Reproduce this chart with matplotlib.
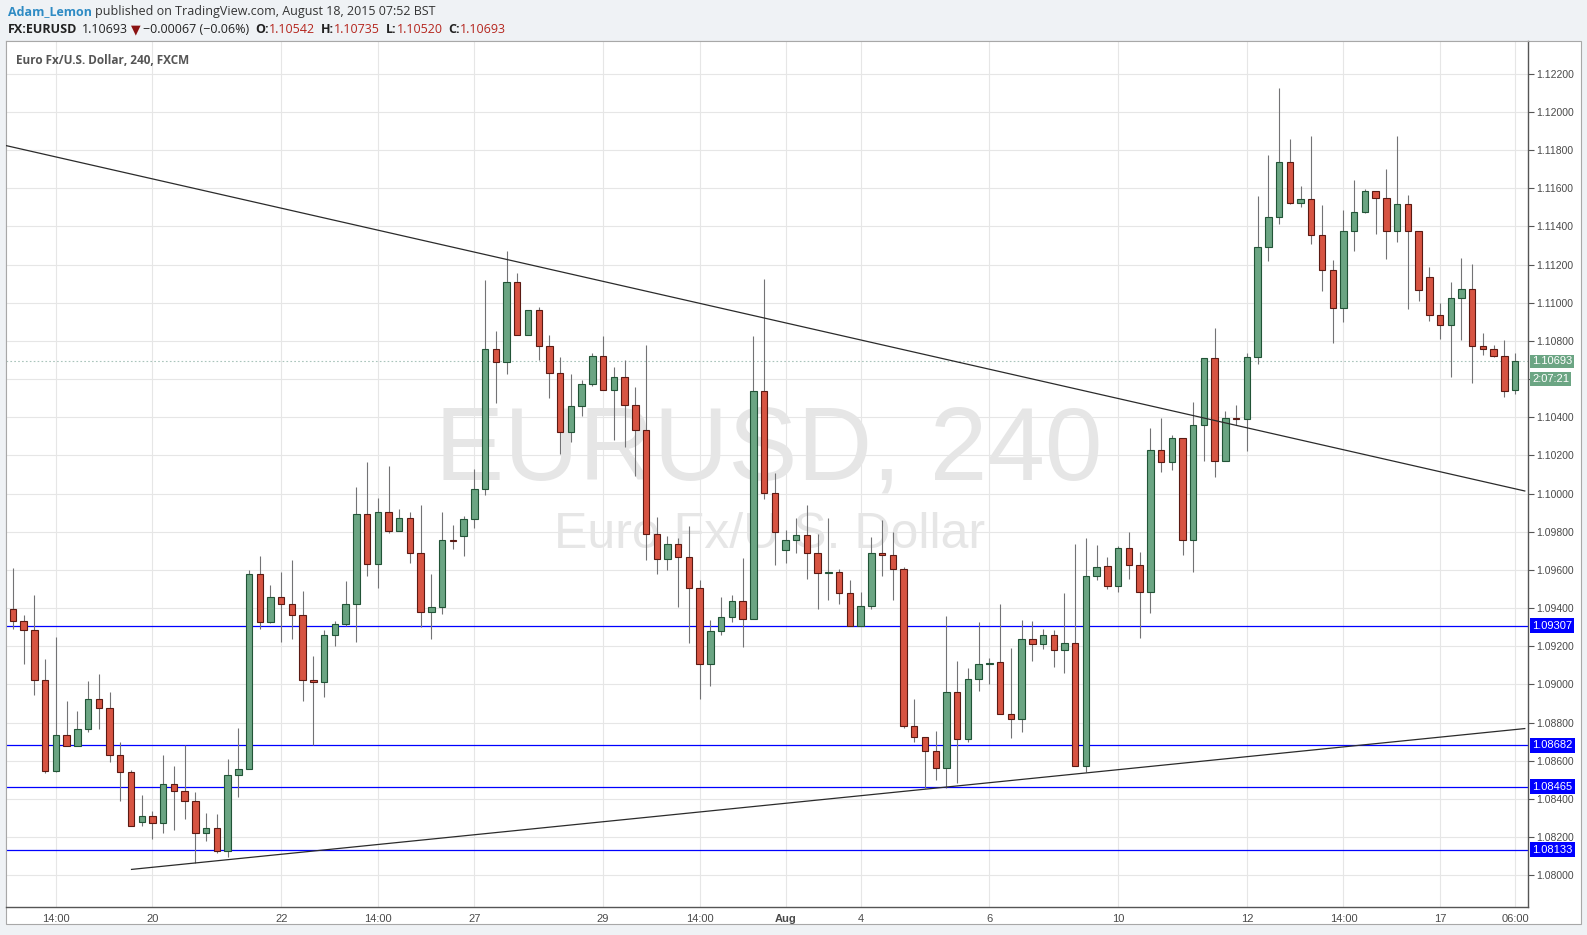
import numpy as np
import matplotlib.pyplot as plt
from matplotlib.patches import Rectangle
from matplotlib.transforms import blended_transform_factory

# EUR/USD 4h candles (FXCM)
opens = [
    1.09395, 1.09332, 1.09284, 1.09026, 1.08547, 1.08737, 1.08679, 1.08768, 1.08926, 1.08879,
    1.08632, 1.08542, 1.08279, 1.08311, 1.08274, 1.08479, 1.08442, 1.08389, 1.08221, 1.08247,
    1.08126, 1.08526, 1.08558, 1.09579, 1.09326, 1.09456, 1.09420, 1.09362, 1.09022, 1.09013,
    1.09258, 1.09315, 1.09420, 1.09896, 1.09629, 1.09906, 1.09802, 1.09870, 1.09687, 1.09378,
    1.09404, 1.09755, 1.09777, 1.09865, 1.10022, 1.10760, 1.10688, 1.11107, 1.10829, 1.10960,
    1.10775, 1.10630, 1.10321, 1.10457, 1.10577, 1.10719, 1.10541, 1.10609, 1.10467, 1.10331,
    1.09786, 1.09660, 1.09734, 1.09666, 1.09508, 1.09108, 1.09280, 1.09356, 1.09440, 1.09341,
    1.10536, 1.10006, 1.09707, 1.09755, 1.09781, 1.09687, 1.09582, 1.09587, 1.09482, 1.09307,
    1.09409, 1.09687, 1.09681, 1.09603, 1.08785, 1.08727, 1.08654, 1.08565, 1.08963, 1.08712,
    1.09031, 1.09105, 1.09117, 1.08846, 1.08818, 1.09238, 1.09211, 1.09258, 1.09180, 1.09217,
    1.08574, 1.09568, 1.09620, 1.09515, 1.09714, 1.09625, 1.09484, 1.10228, 1.10165, 1.10291,
    1.09756, 1.10358, 1.10710, 1.10169, 1.10395, 1.10390, 1.10716, 1.11292, 1.11450, 1.11738,
    1.11523, 1.11544, 1.11355, 1.11172, 1.10971, 1.11376, 1.11476, 1.11586, 1.11549, 1.11376,
    1.11518, 1.11376, 1.11135, 1.10936, 1.10884, 1.11025, 1.11072, 1.10774, 1.10758, 1.10721,
    1.10542]
highs = [
    1.09611, 1.09365, 1.09470, 1.09133, 1.09249, 1.08912, 1.08860, 1.09018, 1.09054, 1.08960,
    1.08697, 1.08554, 1.08423, 1.08339, 1.08628, 1.08575, 1.08684, 1.08439, 1.08328, 1.08323,
    1.08612, 1.08770, 1.09600, 1.09672, 1.09521, 1.09589, 1.09652, 1.09490, 1.09150, 1.09285,
    1.09332, 1.09542, 1.10034, 1.10164, 1.09977, 1.10144, 1.09919, 1.09903, 1.09941, 1.09578,
    1.09906, 1.09834, 1.09885, 1.10128, 1.11117, 1.10852, 1.11272, 1.11154, 1.10965, 1.10978,
    1.10829, 1.10714, 1.10626, 1.10595, 1.10736, 1.10826, 1.10663, 1.10700, 1.10558, 1.10778,
    1.09877, 1.09777, 1.09767, 1.09830, 1.09547, 1.09337, 1.09458, 1.09468, 1.09662, 1.10826,
    1.11123, 1.10108, 1.09812, 1.09870, 1.09943, 1.09786, 1.09870, 1.09606, 1.09550, 1.09484,
    1.09772, 1.09861, 1.09797, 1.09617, 1.08923, 1.08727, 1.08755, 1.09358, 1.09122, 1.09089,
    1.09327, 1.09140, 1.09421, 1.09192, 1.09339, 1.09334, 1.09292, 1.09286, 1.09480, 1.09734,
    1.09769, 1.09732, 1.09669, 1.09725, 1.09800, 1.09695, 1.10345, 1.10398, 1.10308, 1.10291,
    1.10481, 1.10712, 1.10868, 1.10433, 1.10463, 1.10737, 1.11561, 1.11776, 1.12128, 1.11858,
    1.11612, 1.11876, 1.11513, 1.11226, 1.11488, 1.11645, 1.11598, 1.11586, 1.11700, 1.11876,
    1.11565, 1.11376, 1.11189, 1.11001, 1.11111, 1.11237, 1.11205, 1.10843, 1.10779, 1.10807,
    1.10735]
lows = [
    1.09293, 1.09109, 1.08946, 1.08535, 1.08542, 1.08679, 1.08679, 1.08751, 1.08767, 1.08593,
    1.08388, 1.08256, 1.08261, 1.08188, 1.08224, 1.08235, 1.08293, 1.08063, 1.08182, 1.08119,
    1.08098, 1.08409, 1.08558, 1.09290, 1.09321, 1.09225, 1.09236, 1.08912, 1.08683, 1.08937,
    1.09200, 1.09308, 1.09222, 1.09566, 1.09503, 1.09795, 1.09802, 1.09638, 1.09299, 1.09240,
    1.09371, 1.09712, 1.09674, 1.09822, 1.09993, 1.10476, 1.10628, 1.10829, 1.10829, 1.10700,
    1.10502, 1.10209, 1.10272, 1.10408, 1.10565, 1.10541, 1.10281, 1.10246, 1.10094, 1.09653,
    1.09580, 1.09601, 1.09407, 1.09218, 1.08924, 1.08990, 1.09258, 1.09328, 1.09197, 1.09341,
    1.09973, 1.09627, 1.09638, 1.09690, 1.09555, 1.09397, 1.09444, 1.09423, 1.09307, 1.09307,
    1.09397, 1.09569, 1.09444, 1.08773, 1.08701, 1.08455, 1.08502, 1.08460, 1.08486, 1.08701,
    1.08968, 1.09005, 1.08846, 1.08719, 1.08750, 1.09122, 1.09185, 1.09091, 1.09060, 1.08574,
    1.08539, 1.09545, 1.09498, 1.09487, 1.09555, 1.09241, 1.09372, 1.10111, 1.10122, 1.09676,
    1.09592, 1.10172, 1.10088, 1.10169, 1.10358, 1.10225, 1.10681, 1.11221, 1.11415, 1.11516,
    1.11500, 1.11306, 1.11060, 1.10788, 1.10898, 1.11270, 1.11471, 1.11359, 1.11228, 1.11317,
    1.10966, 1.11008, 1.10903, 1.10809, 1.10609, 1.10803, 1.10578, 1.10725, 1.10714, 1.10505,
    1.10520]
closes = [
    1.09332, 1.09284, 1.09026, 1.08547, 1.08737, 1.08679, 1.08768, 1.08926, 1.08877, 1.08632,
    1.08542, 1.08261, 1.08311, 1.08274, 1.08479, 1.08442, 1.08389, 1.08221, 1.08247, 1.08126,
    1.08526, 1.08558, 1.09579, 1.09326, 1.09456, 1.09420, 1.09362, 1.09022, 1.09013, 1.09258,
    1.09315, 1.09420, 1.09896, 1.09629, 1.09906, 1.09802, 1.09870, 1.09687, 1.09378, 1.09404,
    1.09755, 1.09752, 1.09865, 1.10022, 1.10760, 1.10688, 1.11107, 1.10829, 1.10960, 1.10775,
    1.10630, 1.10321, 1.10457, 1.10577, 1.10719, 1.10541, 1.10609, 1.10467, 1.10331, 1.09786,
    1.09660, 1.09734, 1.09666, 1.09508, 1.09108, 1.09280, 1.09356, 1.09440, 1.09341, 1.10536,
    1.10006, 1.09797, 1.09755, 1.09781, 1.09687, 1.09582, 1.09588, 1.09482, 1.09307, 1.09409,
    1.09687, 1.09680, 1.09603, 1.08785, 1.08727, 1.08654, 1.08565, 1.08963, 1.08712, 1.09031,
    1.09105, 1.09114, 1.08846, 1.08818, 1.09238, 1.09211, 1.09258, 1.09180, 1.09217, 1.08574,
    1.09568, 1.09615, 1.09515, 1.09714, 1.09625, 1.09484, 1.10228, 1.10165, 1.10291, 1.09756,
    1.10358, 1.10710, 1.10169, 1.10395, 1.10390, 1.10716, 1.11292, 1.11450, 1.11738, 1.11523,
    1.11544, 1.11355, 1.11172, 1.10971, 1.11376, 1.11476, 1.11586, 1.11549, 1.11376, 1.11518,
    1.11376, 1.11067, 1.10936, 1.10884, 1.11025, 1.11072, 1.10774, 1.10758, 1.10721, 1.10538,
    1.10693]

# time axis labels (bar index -> label)
tick_idx = [4, 13, 25, 34, 43, 55, 64, 72, 79, 91, 103, 115, 124, 133, 140]
tick_lbl = ['14:00', '20', '22', '14:00', '27', '29', '14:00', 'Aug', '4', '6', '10', '12',
            '14:00', '17', '06:00']
# price scale label hidden under the countdown tag
hidden_price = 1.106

# drawings
hlines = [1.09307, 1.08682, 1.08465, 1.08133]
down_trend_x = [-0.65, 140.9]
down_trend_y = [1.11824, 1.10014]
up_trend_x = [11.05, 140.9]
up_trend_y = [1.08031, 1.08769]
last_price = 1.10693
countdown = '2:07:21'

W, H = 1587, 935
fig = plt.figure(figsize=(W / 100, H / 100), dpi=100)
fig.patch.set_facecolor('#eff2f5')

def fx(px):
    return px / W

def fy(py):
    return 1 - py / H

# white chart box (behind the axes)
fig.patches.append(Rectangle((fx(6), fy(924)), fx(1581) - fx(6), fy(41) - fy(924),
                             transform=fig.transFigure, fc='white', ec='#a8a8a8',
                             lw=0.8, zorder=-5))

ax = fig.add_axes([fx(6), fy(907), fx(1528) - fx(6), fy(41) - fy(907)])
ax.set_facecolor('white')
ax.set_xlim(-0.65, 141.2)
ax.set_ylim(1.07834, 1.12372)
ax.set_axisbelow(True)

o = np.array(opens)
h = np.array(highs)
l = np.array(lows)
c = np.array(closes)
x = np.arange(len(o))
up = c >= o

# watermark
ax.text(0.5013, 0.4942, 'EURUSD, 240', transform=ax.transAxes, ha='center', va='baseline',
        fontsize=74.5, family='Liberation Sans', color='#e6e6e6', zorder=0.6)
ax.text(0.5016, 0.4145, 'Euro Fx/U.S. Dollar', transform=ax.transAxes, ha='center',
        va='baseline', fontsize=36, family='Liberation Sans', color='#e6e6e6', zorder=0.6)

# horizontal levels and last price
for lv in hlines:
    ax.axhline(lv, color='#0000ff', lw=0.9, zorder=2)
ax.axhline(last_price, color='#a9c4bb', lw=0.8, ls=(0, (1.5, 2)), zorder=1.5)

# candles
ax.vlines(x, l, h, color='#737375', lw=0.8, zorder=3)
body_bot = np.minimum(o, c)
body_h = np.maximum(np.abs(c - o), 0.00003)
ax.bar(x, body_h, bottom=body_bot, width=0.6,
       color=np.where(up, '#6ba583', '#d75442'),
       edgecolor=np.where(up, '#225437', '#5b1a13'), linewidth=0.8, zorder=4)

# trend lines
ax.plot(down_trend_x, down_trend_y, color='#2b2b2b', lw=0.9, zorder=5)
ax.plot(up_trend_x, up_trend_y, color='#2b2b2b', lw=0.9, zorder=5)

# grid / axes
ax.set_yticks(np.arange(1.080, 1.12201, 0.002))
ax.yaxis.set_major_formatter(plt.FuncFormatter(
    lambda v, pos: '' if abs(v - hidden_price) < 1e-6 else '%.5f' % v))
ax.yaxis.tick_right()
ax.set_xticks(tick_idx)
ax.set_xticklabels(tick_lbl)
for t in ax.get_xticklabels():
    if t.get_text() == 'Aug':
        t.set_fontweight('bold')
ax.grid(True, color='#e6e6e6', lw=0.8)
ax.tick_params(axis='y', direction='out', length=4, width=0.8, color='#555555',
               labelsize=7.5, labelcolor='#4a4a4a', pad=2)
ax.tick_params(axis='x', length=0, labelsize=8, labelcolor='#4a4a4a', pad=5)
for lab in ax.get_xticklabels() + ax.get_yticklabels():
    lab.set_family('Liberation Sans')
for s in ['left', 'top']:
    ax.spines[s].set_color('#a8a8a8')
    ax.spines[s].set_linewidth(0.8)
for s in ['right', 'bottom']:
    ax.spines[s].set_color('#555555')
    ax.spines[s].set_linewidth(1.0)

# price tags on the scale
tr = blended_transform_factory(ax.transAxes, ax.transData)
tag_x = 1 + 4.0 / 1522
for lv in hlines:
    ax.text(tag_x, lv, '%.5f' % lv, transform=tr, ha='left', va='center', fontsize=8,
            family='Liberation Sans', color='white', zorder=6,
            bbox=dict(boxstyle='square,pad=0.22', fc='#0000ff', ec='none'))
ax.text(tag_x, last_price, '%.5f' % last_price, transform=tr, ha='left', va='center',
        fontsize=8, family='Liberation Sans', color='white', zorder=6,
        bbox=dict(boxstyle='square,pad=0.15', fc='#6ba583', ec='none'))
ax.text(tag_x, last_price - 0.00092, countdown, transform=tr, ha='left', va='center',
        fontsize=8, family='Liberation Sans', color='white', zorder=6,
        bbox=dict(boxstyle='square,pad=0.15', fc='#6ba583', ec='none'))

# header text
rend = fig.canvas.get_renderer()

def run_line(x0, y0, runs, size):
    xx = x0
    for txt, col, wt, gap in runs:
        t = fig.text(fx(xx), fy(y0), txt, color=col, fontsize=size, fontweight=wt,
                     family=['Open Sans', 'DejaVu Sans'], ha='left', va='center')
        bb = t.get_window_extent(renderer=rend)
        xx = bb.x1 + gap

red = '#b5261e'
dark = '#333333'
run_line(8, 12, [('Adam_Lemon', '#2e8bc4', 'bold', 3),
                 ('published on TradingView.com, August 18, 2015 07:52 BST', dark, 'normal', 0)],
         9)
run_line(8, 29.5, [('FX:EURUSD', '#222222', 'bold', 5),
                   ('1.10693', '#222222', 'normal', 3),
                   ('\u25bc', '#8b1212', 'normal', 2),
                   ('\u22120.00067 (\u22120.06%)', '#222222', 'normal', 6),
                   ('O:', '#222222', 'bold', 0), ('1.10542', red, 'normal', 6),
                   ('H:', '#222222', 'bold', 0), ('1.10735', red, 'normal', 6),
                   ('L:', '#222222', 'bold', 0), ('1.10520', red, 'normal', 6),
                   ('C:', '#222222', 'bold', 0), ('1.10693', red, 'normal', 0)],
         9)

fig.text(fx(16), fy(61), 'Euro Fx/U.S. Dollar, 240, FXCM', color='#555555', fontsize=8.5,
         fontweight='bold', family=['Open Sans', 'DejaVu Sans'], ha='left', va='center')

fig.savefig('out.png', dpi=100, facecolor=fig.get_facecolor())
